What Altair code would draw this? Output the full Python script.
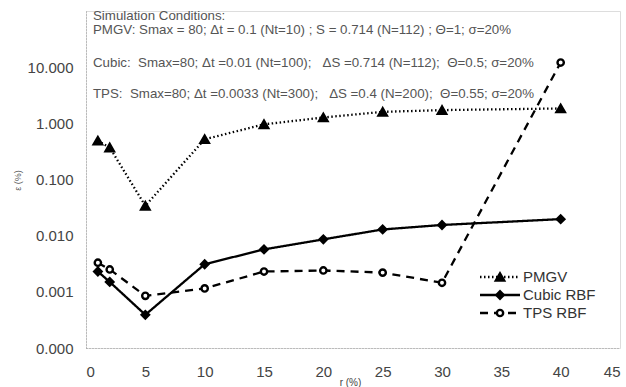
import altair as alt
import pandas as pd

# ---- data ----
r_vals = [1, 2, 5, 10, 15, 20, 25, 30, 40]
pmgv = [0.49, 0.37, 0.034, 0.52, 0.96, 1.27, 1.60, 1.72, 1.84]
cubic = [0.0023, 0.0015, 0.00039, 0.0031, 0.0057, 0.0086, 0.0129, 0.0155, 0.0197]
tps = [0.0033, 0.0025, 0.00085, 0.00115, 0.0023, 0.0024, 0.0022, 0.00145, 12.1]
series_names = ["PMGV", "Cubic RBF", "TPS RBF"]
x_ticks = [0, 5, 10, 15, 20, 25, 30, 35, 40, 45]
y_ticks = [0.0001, 0.001, 0.01, 0.1, 1, 10]
S = "\u00a0"  # extra (non-collapsing) space
notes = [
    "Simulation Conditions:",
    "PMGV: Smax = 80; \u0394t = 0.1 (Nt=10) ; S = 0.714 (N=112) ; \u0398=1; \u03c3=20%",
    f"Cubic:{S} Smax=80; \u0394t =0.01 (Nt=100);{S}{S} \u0394S =0.714 (N=112);{S} \u0398=0.5; \u03c3=20%",
    f"TPS:{S} Smax=80; \u0394t =0.0033 (Nt=300);{S}{S} \u0394S =0.4 (N=200);{S} \u0398=0.55; \u03c3=20%",
]

rows = []
for name, vals in zip(series_names, [pmgv, cubic, tps]):
    for r, v in zip(r_vals, vals):
        rows.append({"r": r, "err": v, "series": name})
df = pd.DataFrame(rows)
leg_df = pd.DataFrame({"series": series_names})

FONT = "Liberation Sans"
W, H = 534, 337

dash_scale = alt.Scale(domain=series_names, range=[[1.5, 2.5], [1, 0], [8, 6]])
shape_scale = alt.Scale(domain=series_names, range=["triangle-up", "diamond", "circle"])
fill_scale = alt.Scale(domain=series_names, range=["black", "black", "white"])
size_scale = alt.Scale(domain=series_names, range=[70, 40, 125])

x_enc = alt.X("r:Q", scale=alt.Scale(domain=[0, 45], nice=False),
              axis=alt.Axis(values=x_ticks, title="r (%)", format="d",
                            labelFontSize=15, labelPadding=16, ticks=False,
                            grid=False, titleFontSize=10, titleFontWeight="normal",
                            titleY=29, titleX=264, titleColor="#444", labelColor="#444",
                            domainColor="#999", domainDash=[1, 2], labelFont=FONT,
                            titleFont=FONT))
y_scale = alt.Scale(type="log", domain=[0.0001, 100], nice=False)
y_enc = alt.Y("err:Q", scale=y_scale,
              axis=alt.Axis(values=y_ticks, format=".3f", title="\u03b5 (%)",
                            labelFontSize=15, labelPadding=13, ticks=False, grid=False,
                            titleFontSize=9, titleFontWeight="normal", titleX=-64,
                            titleY=169, titleColor="#555", labelColor="#444",
                            domainColor="#999", domainDash=[1, 2], labelFont=FONT,
                            titleFont=FONT))

lines = alt.Chart(df).mark_line(color="black", strokeWidth=2.3).encode(
    x=x_enc, y=y_enc,
    strokeDash=alt.StrokeDash("series:N", scale=dash_scale, legend=None),
)

points = alt.Chart(df).mark_point(stroke="black", strokeWidth=2.4, opacity=1).encode(
    x="r:Q", y=alt.Y("err:Q", scale=y_scale),
    shape=alt.Shape("series:N", scale=shape_scale, legend=None),
    fill=alt.Fill("series:N", scale=fill_scale, legend=None),
    size=alt.Size("series:N", scale=size_scale, legend=None),
)

one = pd.DataFrame({"k": [0]})
note_y = [5, 19, 52, 83]
texts = [
    alt.Chart(one).mark_text(align="left", baseline="middle", font=FONT, fontSize=13.3,
                             color="#555").encode(
        x=alt.value(7), y=alt.value(yy), text=alt.value(t))
    for t, yy in zip(notes, note_y)
]

main = alt.layer(lines, points, *texts)

# ---- legend (lower right) ----
leg_y = alt.Y("series:N", scale=alt.Scale(domain=series_names, range=[257, 311]), axis=None)
leg_rule = alt.Chart(leg_df).mark_rule(color="black", strokeWidth=2.3).encode(
    x=alt.value(394), x2=alt.value(434), y=leg_y,
    strokeDash=alt.StrokeDash("series:N", scale=dash_scale, legend=None),
)
leg_pts = alt.Chart(leg_df).mark_point(stroke="black", strokeWidth=2.4, opacity=1).encode(
    x=alt.value(414), y=leg_y,
    shape=alt.Shape("series:N", scale=shape_scale, legend=None),
    fill=alt.Fill("series:N", scale=fill_scale, legend=None),
    size=alt.Size("series:N", scale=size_scale, legend=None),
)
leg_txt = alt.Chart(leg_df).mark_text(align="left", baseline="middle", font=FONT,
                                      fontSize=15, color="#333").encode(
    x=alt.value(437), y=leg_y, text="series:N",
)
legend = alt.layer(leg_rule, leg_pts, leg_txt)

chart = alt.layer(main, legend).resolve_scale(y="independent").properties(
    width=W, height=H,
    autosize=alt.AutoSizeParams(type="none"),
    padding={"left": 86, "top": 11, "right": 6, "bottom": 39},
).configure_view(stroke=None).configure(background="white")

chart.save("out.html", embed_options={"renderer": "svg", "actions": False})
